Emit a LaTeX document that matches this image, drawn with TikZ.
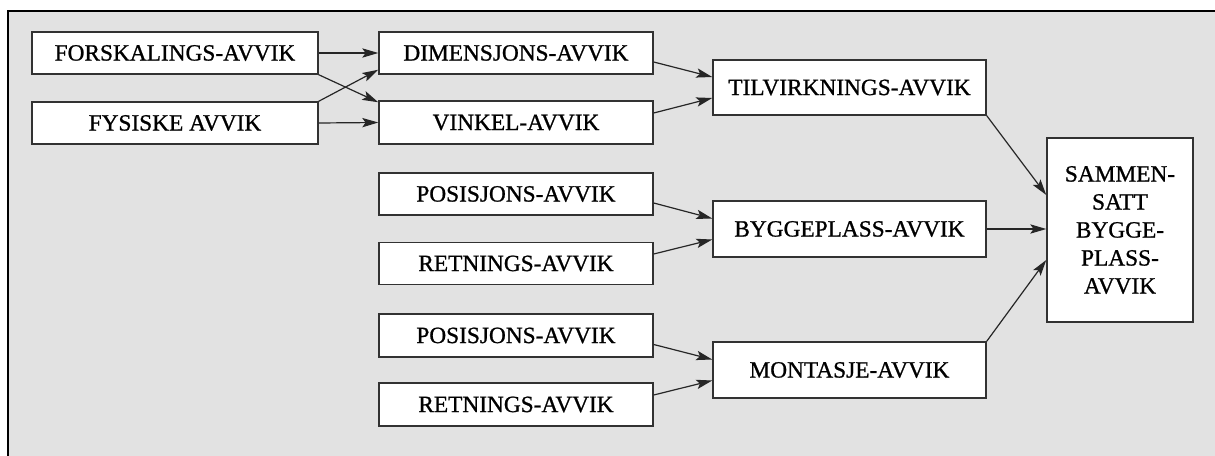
\documentclass[tikz,border=0pt]{standalone}
\usepackage{fontspec}
\setmainfont{Liberation Serif}
\newfontfamily\heavyfont[FakeBold=0.9]{Liberation Serif}
\usetikzlibrary{arrows.meta,calc}
\definecolor{bggray}{RGB}{226,226,226}
\definecolor{boxline}{RGB}{50,50,50}
\tikzset{
  bx/.style 2 args={draw=boxline, line width=1.1pt, fill=white, rectangle,
    minimum width=#1*0.75pt, minimum height=#2*0.75pt, inner sep=0pt,
    font=\heavyfont\fontsize{17.5}{21}\selectfont, align=center},
  arr/.style={-{Stealth[length=12pt,width=7pt,inset=2.5pt]}, line width=0.9pt, draw=black!85}
}
\begin{document}
\begin{tikzpicture}[x=0.75pt,y=-0.75pt]
\useasboundingbox (0,0) rectangle (1215,456);
\fill[bggray] (9,12) rectangle (1215,456);
\draw[line width=1.6pt] (8,456) -- (8,11) -- (1215,11);

\node[bx={286}{42}] (forsk) at (175,53) {FORSKALINGS-AVVIK};
\node[bx={286}{42}] (fys) at (175,123) {FYSISKE AVVIK};
\node[bx={274}{42}] (dim) at (516,53) {DIMENSJONS-AVVIK};
\node[bx={274}{43}] (vink) at (516,122.5) {VINKEL-AVVIK};
\node[bx={274}{42}] (pos1) at (516,194) {POSISJONS-AVVIK};
\node[bx={274}{42}] (ret1) at (516,263.5) {RETNINGS-AVVIK};
\node[bx={274}{43}] (pos2) at (516,335.5) {POSISJONS-AVVIK};
\node[bx={274}{43}] (ret2) at (516,404.5) {RETNINGS-AVVIK};
\node[bx={273}{55}] (tilv) at (849.5,87.5) {TILVIRKNINGS-AVVIK};
\node[bx={273}{56}] (bygg) at (849.5,229) {BYGGEPLASS-AVVIK};
\node[bx={273}{56}] (mont) at (849.5,370) {MONTASJE-AVVIK};
\node[bx={146}{184}] (samm) at (1120,230) {SAMMEN-\\SATT\\BYGGE-\\PLASS-\\AVVIK};

\draw[arr] (forsk.east) -- (dim.west);
\draw[arr] (fys.east) -- (vink.west);
\draw[arr] (forsk.south east) -- ($(vink.north west)+(0,2)$);
\draw[arr] (fys.north east) -- ($(dim.south west)+(0,-5)$);

\draw[arr] ($(dim.east)+(0,9)$) -- ($(tilv.west)+(0,-10.5)$);
\draw[arr] ($(vink.east)+(0,-9.5)$) -- ($(tilv.west)+(0,10.5)$);
\draw[arr] ($(pos1.east)+(0,9)$) -- ($(bygg.west)+(0,-10.5)$);
\draw[arr] ($(ret1.east)+(0,-9.5)$) -- ($(bygg.west)+(0,10.5)$);
\draw[arr] ($(pos2.east)+(0,9)$) -- ($(mont.west)+(0,-10.5)$);
\draw[arr] ($(ret2.east)+(0,-9.5)$) -- ($(mont.west)+(0,10.5)$);

\draw[arr] (tilv.south east) -- ($(samm.west)+(0,-35)$);
\draw[arr] (bygg.east) -- ($(samm.west)+(0,-1)$);
\draw[arr] (mont.north east) -- ($(samm.west)+(0,30)$);
\end{tikzpicture}
\end{document}
